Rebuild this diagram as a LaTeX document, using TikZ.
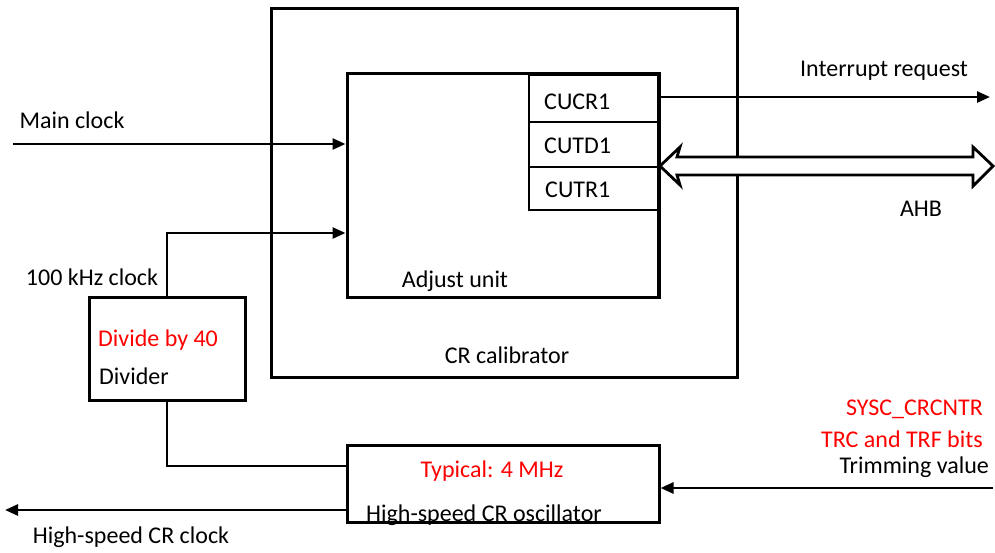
\documentclass[tikz,border=0pt]{standalone}
\usepackage{fontspec}
\setmainfont{Carlito}
\usetikzlibrary{arrows.meta}
\definecolor{txtred}{RGB}{255,0,0}
\begin{document}
\begin{tikzpicture}[x=1pt,y=-1pt,
  box/.style={draw,line width=3pt,minimum width=#1,inner sep=0pt},
  regbox/.style={draw,line width=1.8pt,minimum width=129pt,inner sep=0pt},
  conn/.style={line width=2.6pt,-{Triangle[length=13pt,width=11pt]}},
  wire/.style={line width=2.6pt},
  lbl/.style={inner sep=0pt,font=\fontsize{24}{28}\selectfont},
  rlbl/.style={lbl,text=txtred}]
\useasboundingbox (0,0) rectangle (995,552);
% boxes
\node[box=466pt,minimum height=369pt] (cal) at (504,192.5) {};
\node[box=311pt,minimum height=224pt] (adj) at (502.5,185) {};
\node[regbox,minimum height=47pt] (cucr) at (593.5,98.5) {};
\node[regbox,minimum height=45pt] (cutd) at (593.5,144.5) {};
\node[regbox,minimum height=43pt] (cutr) at (593.5,188.5) {};
\draw[line width=3pt] (adj.north east) -- (adj.south east);
\node[box=156pt,minimum height=103pt] (div) at (167,348.5) {};
\node[box=312pt,minimum height=77pt] (osc) at (503,483.5) {};
% labels in boxes
\node[lbl,anchor=west] (tcucr) at (544,102) {CUCR1};
\node[lbl,anchor=west] (tcutd) at (544,146) {CUTD1};
\node[lbl,anchor=west] (tcutr) at (545,190) {CUTR1};
\node[lbl] (tadj) at (455,281) {Adjust unit};
\node[lbl] (tcal) at (507,355) {CR calibrator};
\node[rlbl,anchor=west] (tdiv40) at (98,340) {Divide by 40};
\node[lbl,anchor=west] (tdiv) at (99,376) {Divider};
\node[rlbl] (ttyp) at (492,471) {Typical: 4 MHz};
\node[lbl] (tosc) at (484,515) {High-speed CR oscillator};
% external labels
\node[lbl] (tmain) at (72,120) {Main clock};
\node[lbl] (t100) at (92,277) {100 kHz clock};
\node[lbl] (tint) at (884,71) {Interrupt request};
\node[lbl] (tahb) at (921,209) {AHB};
\node[rlbl,anchor=east] (tsysc) at (983,409) {SYSC\_CRCNTR};
\node[rlbl,anchor=east] (ttrc) at (983,439) {TRC and TRF bits};
\node[lbl,anchor=east] (ttrim) at (989,467) {Trimming value};
\node[lbl] (thsclk) at (131,537) {High-speed CR clock};
% free ends
\coordinate (mainin) at (13,144);
\coordinate (intout) at (990,97);
\coordinate (trimin) at (993,488);
\coordinate (hsout) at (5,510);
% connectors
\draw[conn] (mainin) -- (mainin -| adj.west);
\draw[conn] (div.north) |- ([yshift=-48pt]adj.west);
\draw[wire] (div.south) |- ([yshift=17.5pt]osc.west);
\draw[conn] (intout -| cucr.east) -- (intout);
\draw[conn] (trimin) -- (trimin -| osc.east);
\draw[conn] (hsout -| osc.west) -- (hsout);
% AHB double hollow arrow
\coordinate (ahbl) at (cutd.south east);
\coordinate (ahbr) at (993,166);
\draw[line width=2.8pt,fill=white,line join=miter]
  (660,166) -- (680,147) -- (677,157) -- (973,157) -- (973,147) -- (ahbr)
  -- (973,186) -- (973,175) -- (677,175) -- (680,185) -- cycle;
\end{tikzpicture}
\end{document}
